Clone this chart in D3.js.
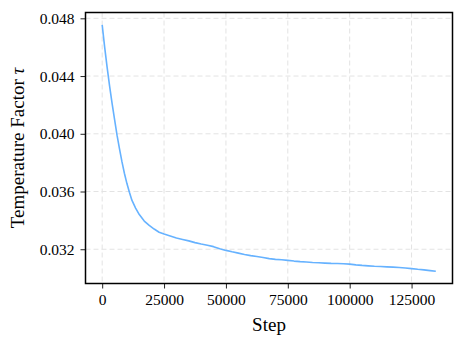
<!DOCTYPE html>
<html>
<head>
<meta charset="utf-8">
<script src="https://cdn.jsdelivr.net/npm/d3@7"></script>
<style>
  body { margin: 0; background: #fff; }
  svg text { font-family: "Liberation Serif", "DejaVu Serif", serif !important; fill: #000; }
</style>
</head>
<body>
<div id="chart"></div>
<script>
// Passos de treino
const steps = [0, 1000, 2000, 3000, 4000, 5000, 6000, 7000, 8000, 9000, 10000, 11000, 12000,
  13500, 15000, 17000, 19000, 21000, 23000, 25000, 27500, 30000, 32500, 35000, 37500, 40000,
  42500, 45000, 47500, 50000, 52500, 55000, 57500, 60000, 62500, 65000, 67500, 70000, 72500,
  75000, 77500, 80000, 82500, 85000, 87500, 90000, 92500, 95000, 97500, 100000, 102500, 105000,
  107500, 110000, 112500, 115000, 117500, 120000, 122500, 125000, 127500, 130000, 132500, 134800];

// Fator de temperatura
const tau = [0.04755, 0.04600, 0.04460, 0.04330, 0.04210, 0.04100, 0.03990, 0.03895, 0.03805,
  0.03725, 0.03655, 0.03595, 0.03540, 0.03485, 0.03440, 0.03395, 0.03365, 0.03340, 0.03318,
  0.03305, 0.03292, 0.03278, 0.03268, 0.03258, 0.03246, 0.03236, 0.03228, 0.03218, 0.03204,
  0.03192, 0.03182, 0.03173, 0.03164, 0.03156, 0.03150, 0.03143, 0.03135, 0.03130, 0.03127,
  0.03123, 0.03118, 0.03114, 0.03112, 0.03108, 0.03106, 0.03104, 0.03102, 0.03101, 0.03099,
  0.03097, 0.03092, 0.03088, 0.03085, 0.03082, 0.03080, 0.03078, 0.03076, 0.03073, 0.03070,
  0.03066, 0.03061, 0.03057, 0.03052, 0.03048];

const xTicks = [0, 25000, 50000, 75000, 100000, 125000];
const yTicks = [0.032, 0.036, 0.040, 0.044, 0.048];

const data = steps.map((s, i) => ({ step: s, value: tau[i] }));

const width = 465, height = 347;
const margin = { top: 12.5, right: 12.5, bottom: 63.5, left: 85.5 };
const innerW = width - margin.left - margin.right;
const innerH = height - margin.top - margin.bottom;
const serif = '"Liberation Serif", "DejaVu Serif", serif';

// Margens de 5% como no matplotlib
const xMin = d3.min(steps), xMax = d3.max(steps);
const yMin = d3.min(tau), yMax = d3.max(tau);
const xPad = (xMax - xMin) * 0.05, yPad = (yMax - yMin) * 0.05;

const x = d3.scaleLinear().domain([xMin - xPad, xMax + xPad]).range([0, innerW]);
const y = d3.scaleLinear().domain([yMin - yPad, yMax + yPad]).range([innerH, 0]);

const svg = d3.select("#chart").append("svg")
  .attr("width", width).attr("height", height);

const g = svg.append("g").attr("transform", `translate(${margin.left},${margin.top})`);

// Grade tracejada
g.append("g").selectAll("line").data(xTicks).enter().append("line")
  .attr("x1", d => x(d)).attr("x2", d => x(d)).attr("y1", 0).attr("y2", innerH)
  .attr("stroke", "#e3e3e3").attr("stroke-width", 1).attr("stroke-dasharray", "5,3");
g.append("g").selectAll("line").data(yTicks).enter().append("line")
  .attr("y1", d => y(d)).attr("y2", d => y(d)).attr("x1", 0).attr("x2", innerW)
  .attr("stroke", "#e3e3e3").attr("stroke-width", 1).attr("stroke-dasharray", "5,3");

// Linha da série
const line = d3.line().x(d => x(d.step)).y(d => y(d.value));
g.append("path").datum(data)
  .attr("fill", "none").attr("stroke", "#66b2ff").attr("stroke-width", 1.6)
  .attr("stroke-linejoin", "round").attr("d", line);

// Eixos
const xAxis = g.append("g").attr("transform", `translate(0,${innerH})`)
  .call(d3.axisBottom(x).tickValues(xTicks).tickFormat(d3.format("d")).tickSizeOuter(0).tickSize(5).tickPadding(5));
const yAxis = g.append("g")
  .call(d3.axisLeft(y).tickValues(yTicks).tickFormat(d3.format(".3f")).tickSizeOuter(0).tickSize(5).tickPadding(6));

[xAxis, yAxis].forEach(a => {
  a.attr("font-family", serif).attr("font-size", 15.5);
  a.select(".domain").remove();
  a.selectAll(".tick line").attr("stroke", "#222").attr("stroke-width", 1);
  a.selectAll(".tick text").style("font-family", serif).style("font-size", "15.5px").attr("fill", "#000");
});

// Moldura
g.append("rect").attr("width", innerW).attr("height", innerH)
  .attr("fill", "none").attr("stroke", "#000").attr("stroke-width", 1.5);

// Rótulos
svg.append("text").attr("x", margin.left + innerW / 2).attr("y", 331)
  .attr("text-anchor", "middle").style("font-family", serif).style("font-size", "19px").text("Step");

svg.append("text")
  .attr("transform", `translate(24,${margin.top + innerH / 2}) rotate(-90)`)
  .attr("text-anchor", "middle").style("font-family", serif).style("font-size", "19px")
  .html('Temperature Factor <tspan font-style="italic">τ</tspan>');
</script>
</body>
</html>
